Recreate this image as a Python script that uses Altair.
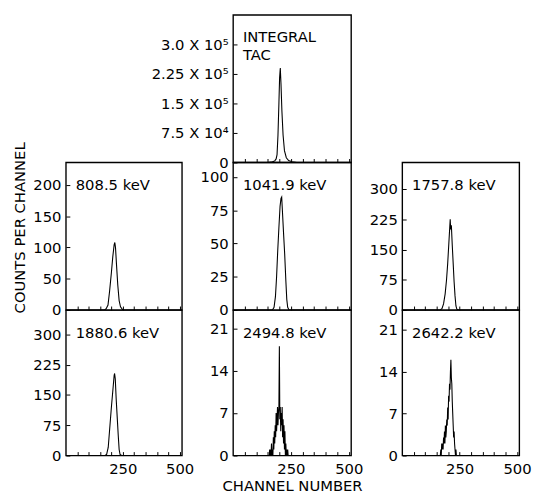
import altair as alt
import pandas as pd

FONT = "DejaVu Sans"

# ---------------- data ----------------
x_tick_values = [50, 100, 150, 200, 250, 300, 350, 400, 450, 500]
x_label_values = [250, 500]

# INTEGRAL TAC
tac_channel = [0, 150, 170, 180, 186, 190, 194, 198, 201, 204, 207, 211, 216, 222, 230, 240, 255, 275, 510]
tac_counts = [0, 0, 1500, 4000, 9000, 20000, 70000, 150000, 215000, 240000, 200000, 130000, 70000, 30000, 12000, 5000, 2000, 0, 0]
tac_ticks = [0, 75000, 150000, 225000, 300000]
tac_tick_labels = ["0", "7.5 X 10⁴", "1.5 X 10⁵", "2.25 X 10⁵", "3.0 X 10⁵"]

# 808.5 keV
k808_channel = [0, 170, 177, 185, 192, 196, 200, 206, 212, 215, 218, 222, 228, 234, 240, 248, 255, 510]
k808_counts = [0, 0, 2, 8, 30, 45, 60, 85, 104, 108, 100, 75, 40, 15, 5, 1, 0, 0]
k808_ticks = [0, 50, 100, 150, 200]

# 1880.6 keV
k1880_channel = [0, 172, 179, 186, 193, 200, 207, 212, 214, 217, 221, 226, 230, 234, 238, 245, 510]
k1880_counts = [0, 0, 3, 20, 70, 120, 165, 198, 203, 190, 140, 90, 50, 15, 3, 0, 0]
k1880_ticks = [0, 75, 150, 225, 300]

# 1041.9 keV
k1041_channel = [0, 170, 177, 183, 188, 193, 198, 203, 207, 210, 213, 218, 223, 228, 232, 236, 242, 510]
k1041_counts = [0, 0, 2, 10, 25, 45, 62, 78, 84, 85, 75, 58, 42, 22, 8, 2, 0, 0]
k1041_ticks = [0, 25, 50, 75, 100]

# 2494.8 keV
k2494_channel = [0, 156, 158, 160, 162, 164, 166, 168, 170, 172, 174, 176, 178, 180, 182, 184, 186,
                 188, 190, 192, 194, 196, 198, 200, 202, 204, 206, 208, 210, 212, 214, 216, 218,
                 220, 222, 224, 226, 228, 230, 232, 234, 236, 238, 240, 510]
k2494_counts = [0, 0, 1, 0, 1, 0, 2, 0, 1, 0, 3, 1, 4, 2, 5, 3, 7,
                4, 6, 8, 5, 7, 8, 18, 6, 8, 4, 7, 5, 8, 3, 6, 2,
                5, 1, 4, 0, 2, 0, 1, 0, 1, 0, 0, 0]
k2494_ticks = [0, 7, 14, 21]

# 1757.8 keV
k1757_channel = [0, 165, 173, 180, 187, 193, 198, 203, 207, 209, 211, 214, 218, 222, 226, 230, 234, 238, 245, 510]
k1757_counts = [0, 0, 3, 15, 40, 75, 115, 165, 205, 225, 200, 210, 160, 115, 70, 35, 10, 2, 0, 0]
k1757_ticks = [0, 75, 150, 225, 300]

# 2642.2 keV
k2642_channel = [0, 164, 166, 168, 170, 172, 174, 176, 178, 180, 182, 184, 186, 188, 190, 192, 194,
                 196, 198, 200, 202, 204, 206, 208, 210, 212, 214, 216, 218, 220, 222, 224, 226,
                 228, 230, 232, 234, 236, 510]
k2642_counts = [0, 0, 0, 1, 0, 2, 1, 2, 1, 3, 2, 4, 2, 5, 3, 4, 6,
                5, 8, 6, 10, 9, 12, 11, 14, 16, 13, 12, 9, 7, 5, 3, 4,
                2, 1, 0, 1, 0, 0]
k2642_ticks = [0, 7, 14, 21]


def label_expr(values, labels):
    expr = "''"
    for v, l in zip(values, labels):
        expr = f"datum.value == {v} ? '{l}' : ({expr})"
    return expr


FRAME = alt.ViewBackground(stroke="black", strokeWidth=1.4)


def panel(ch, ct, text_lines, y_max, y_ticks, w, h, y_labels=None,
          x_labels=False, x_title=None, y_title=None):
    df = pd.DataFrame({"channel": ch, "counts": ct})

    y_kw = dict(values=y_ticks, offset=-4, tickSize=4, domain=False, grid=False,
                labelPadding=5, labelFontSize=15, labelFont=FONT, labelColor="black",
                tickColor="black", labelFlush=False, labelBaseline="middle")
    if y_labels is not None:
        y_kw["labelExpr"] = label_expr(y_ticks, y_labels)
    if y_title is not None:
        y_kw.update(title=y_title, titleFont=FONT, titleFontSize=15, titleFontWeight="normal",
                    titleColor="black", titleX=-51, titleY=66, titleAngle=270,
                    titleAlign="center", titleBaseline="middle")
    else:
        y_kw["title"] = None

    x_kw = dict(values=x_tick_values, offset=-4, tickSize=4, domain=False, grid=False,
                tickColor="black", labelFlush=False)
    if x_labels:
        x_kw.update(labelExpr=label_expr(x_label_values, [str(v) for v in x_label_values]),
                    labelFontSize=15, labelFont=FONT, labelColor="black", labelPadding=6)
    else:
        x_kw["labels"] = False
    if x_title is not None:
        x_kw.update(title=x_title, titleFont=FONT, titleFontSize=15, titleFontWeight="normal",
                    titleColor="black", titlePadding=3)
    else:
        x_kw["title"] = None

    line = alt.Chart(df).mark_line(color="black", strokeWidth=1.1, clip=True).encode(
        x=alt.X("channel:Q", scale=alt.Scale(domain=[0, 510], nice=False, zero=False),
                axis=alt.Axis(**x_kw)),
        y=alt.Y("counts:Q", scale=alt.Scale(domain=[0, y_max], nice=False),
                axis=alt.Axis(**y_kw)),
    )
    txt = alt.Chart(pd.DataFrame({"a": [0]})).mark_text(
        text=text_lines, align="left", baseline="top", font=FONT, fontSize=15,
        lineHeight=18, color="black"
    ).encode(x=alt.value(10), y=alt.value(16))
    return alt.layer(line, txt).properties(width=w, height=h, view=FRAME)


def spacer(w, h):
    return alt.Chart(pd.DataFrame({"a": [0]})).mark_point(opacity=0, size=1).encode(
        x=alt.value(50), y=alt.value(50)
    ).properties(width=w, height=h, view=alt.ViewBackground(stroke="transparent"))


p_tac = panel(tac_channel, tac_counts, ["INTEGRAL", "TAC"], 375000, tac_ticks, 120, 150,
              y_labels=tac_tick_labels)
p808 = panel(k808_channel, k808_counts, ["808.5 keV"], 236, k808_ticks, 118, 150,
             y_title="COUNTS PER CHANNEL")
p1880 = panel(k1880_channel, k1880_counts, ["1880.6 keV"], 360, k1880_ticks, 118, 148,
              x_labels=True)
p1041 = panel(k1041_channel, k1041_counts, ["1041.9 keV"], 111, k1041_ticks, 120, 150)
p2494 = panel(k2494_channel, k2494_counts, ["2494.8 keV"], 24, k2494_ticks, 120, 148,
              x_labels=True, x_title="CHANNEL NUMBER")
p1757 = panel(k1757_channel, k1757_counts, ["1757.8 keV"], 366, k1757_ticks, 119, 150)
p2642 = panel(k2642_channel, k2642_counts, ["2642.2 keV"], 24.3, k2642_ticks, 119, 148,
              x_labels=True)

chart = alt.concat(
    spacer(118, 150), p_tac, spacer(119, 150),
    p808, p1041, p1757,
    p1880, p2494, p2642,
    columns=3, spacing=alt.RowColnumber(row=0, column=52), bounds="flush",
).properties(
    padding={"left": 12, "top": 10, "right": 4, "bottom": 0},
    background="white",
).configure(font=FONT).configure_view(stroke="black", strokeWidth=1.4)

chart.save("out.html", embed_options={"renderer": "svg", "actions": False})
